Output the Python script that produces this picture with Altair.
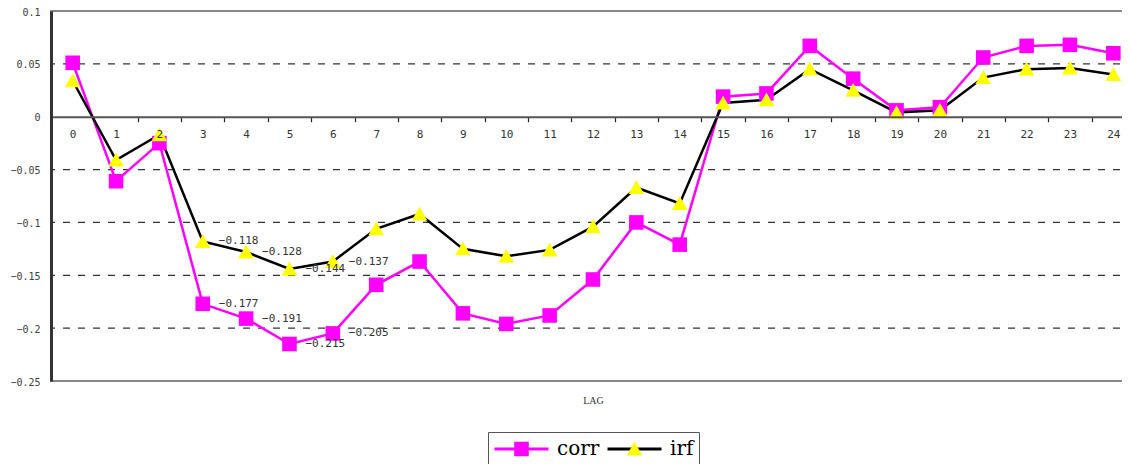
import altair as alt
import pandas as pd

lags = list(range(25))
corr = [0.051, -0.061, -0.025, -0.177, -0.191, -0.215, -0.205, -0.159, -0.137,
        -0.186, -0.196, -0.188, -0.154, -0.100, -0.121, 0.019, 0.022, 0.067,
        0.036, 0.006, 0.009, 0.056, 0.067, 0.068, 0.060]
irf = [0.034, -0.041, -0.017, -0.118, -0.128, -0.144, -0.137, -0.106, -0.092,
       -0.125, -0.132, -0.126, -0.104, -0.067, -0.082, 0.013, 0.016, 0.045,
       0.025, 0.004, 0.006, 0.037, 0.045, 0.046, 0.040]
series_names = ["corr", "irf"]
label_lags = [3, 4, 5, 6]
y_ticks = [0.1, 0.05, 0, -0.05, -0.1, -0.15, -0.2, -0.25]
grid_vals = [0.05, -0.05, -0.1, -0.15, -0.2]

rows = []
for name, vals in zip(series_names, (corr, irf)):
    for lag, v in zip(lags, vals):
        rows.append({"lag": lag, "value": v, "series": name, "series_pt": name})
df = pd.DataFrame(rows)
grid_df = pd.DataFrame({"g": grid_vals})

W, H = 1084, 370
YMIN, YMAX = -0.25, 0.1
axis_offset = -(H - H * YMAX / (YMAX - YMIN))

line_colors = ["#FF00FF", "#000000"]
fill_colors = ["#FF00FF", "#FFFF00"]
sq_path = "M-0.27,-0.27H0.27V0.27H-0.27Z"
tri_path = "M0,-0.27L0.29,0.24H-0.29Z"
line_path = "M-1,0H1"

LEG_X, LEG_Y = 437, 421
common_leg = dict(
    orient="none", legendX=LEG_X, legendY=LEG_Y, direction="horizontal",
    title=None, symbolSize=2916, clipHeight=24, symbolStrokeWidth=3,
    labelFont="DejaVu Serif", labelFontSize=20, labelColor="#000000",
    labelOffset=7, columnPadding=6, padding=5,
)

xenc = alt.X(
    "lag:O",
    scale=alt.Scale(type="band", paddingInner=0, paddingOuter=0),
    axis=alt.Axis(
        title="LAG", offset=axis_offset, tickBand="extent", labelAngle=0,
        domainColor="#555555", domainWidth=2, tickColor="#222222", tickSize=5,
        tickWidth=1.2, labelPadding=7, labelFont="DejaVu Sans Mono",
        labelFontSize=11, labelColor="#333333", titleFont="Liberation Serif",
        titleFontSize=10, titleFontWeight="normal", titleColor="#333333",
        titleY=283.5, titleBaseline="middle", zindex=1,
    ),
)
yscale = alt.Scale(domain=[YMIN, YMAX], nice=False, zero=False)
yenc = alt.Y(
    "value:Q", scale=yscale,
    axis=alt.Axis(
        title=None, values=y_ticks, format="~g", grid=False, ticks=False,
        tickSize=0, labelPadding=11, labelOffset=1, domainColor="#333333",
        domainWidth=3, labelFont="DejaVu Sans Mono", labelFontSize=10,
        labelColor="#404040", zindex=2,
    ),
)

grid = alt.Chart(grid_df).mark_rule(color="#333333", strokeWidth=1.2, strokeDash=[7, 8]).encode(
    y=alt.Y("g:Q", scale=yscale)
)

lines = alt.Chart(df).mark_line(strokeWidth=2.5).encode(
    x=xenc, y=yenc,
    stroke=alt.Stroke(
        "series:N", scale=alt.Scale(range=line_colors),
        legend=alt.Legend(symbolType=line_path, strokeColor="#555555",
                          symbolFillColor="transparent", zindex=1, **common_leg),
    ),
)

pt_leg = alt.Legend(labelOpacity=0, symbolStrokeColor="transparent", zindex=2, **common_leg)
points = alt.Chart(df).mark_point(filled=True, size=2916, opacity=1, strokeWidth=0).encode(
    x=xenc, y=yenc,
    fill=alt.Fill("series_pt:N", scale=alt.Scale(range=fill_colors), legend=pt_leg),
    shape=alt.Shape("series_pt:N", scale=alt.Scale(range=[sq_path, tri_path]), legend=pt_leg),
)

labels = alt.Chart(df).transform_filter(
    alt.FieldOneOfPredicate(field="lag", oneOf=label_lags)
).mark_text(align="left", baseline="middle", dx=16, font="DejaVu Sans Mono",
            fontSize=11, color="#333333").encode(
    x=xenc, y=yenc, text=alt.Text("value:Q", format=".3f"),
)

chart = alt.layer(grid, lines, points, labels).properties(
    width=W, height=H,
    autosize=alt.AutoSizeParams(type="none"),
    padding={"left": 43, "top": 3, "right": -13, "bottom": 83},
).configure_view(stroke="#888888", strokeWidth=2)

chart.save("out.html", embed_options={"renderer": "svg", "actions": False})
